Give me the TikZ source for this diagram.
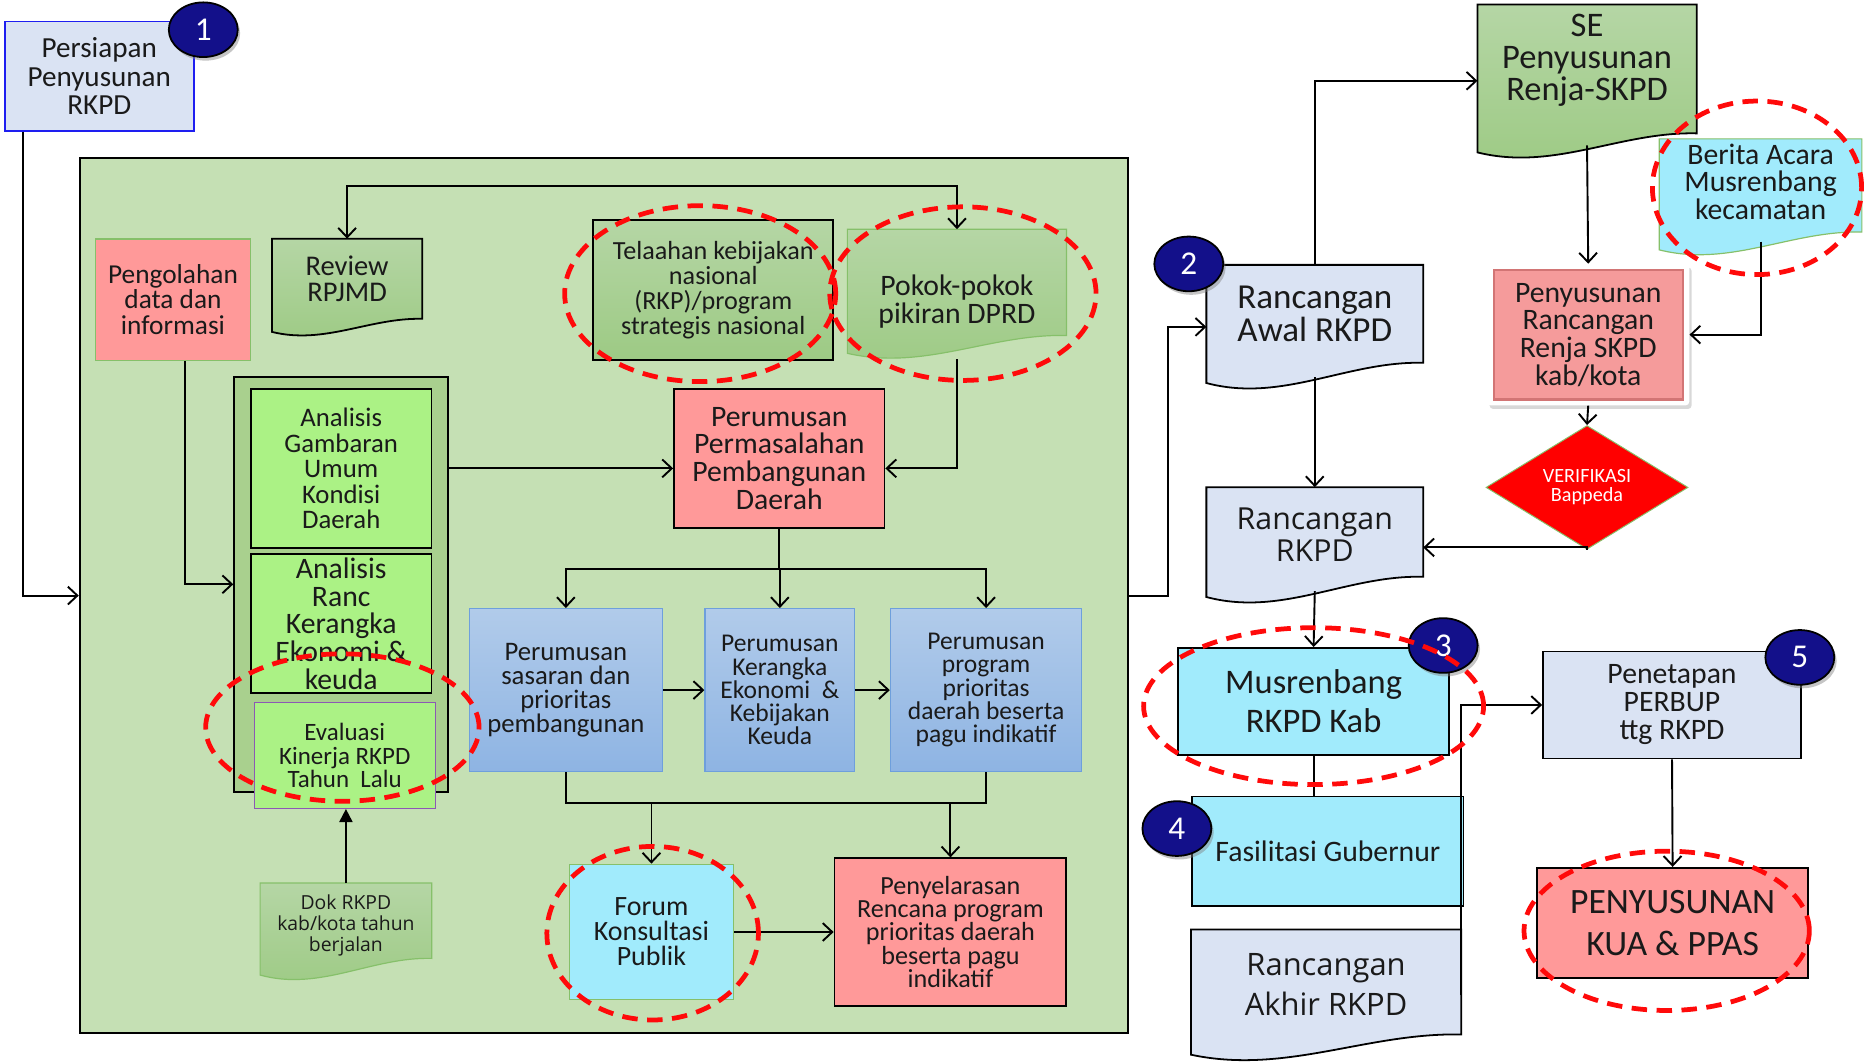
\documentclass[tikz,border=0pt]{standalone}
\usepackage{fontspec}
\setmainfont{Carlito}
\newfontfamily\osans{Open Sans}
\usetikzlibrary{arrows.meta,calc,shapes.geometric,shadows}
\definecolor{cbg}{HTML}{C5E0B4}
\definecolor{canal}{HTML}{A9D08E}
\definecolor{cbright}{HTML}{ABF285}
\definecolor{cpink}{HTML}{FF9999}
\definecolor{cpinkR}{HTML}{F59B9B}
\definecolor{cpinkE}{HTML}{D27575}
\definecolor{cblueT}{HTML}{B1CBEA}
\definecolor{cblueB}{HTML}{8EB4E3}
\definecolor{cblueD}{HTML}{6E9FDC}
\definecolor{ccyan}{HTML}{A1EBFC}
\definecolor{clgrey}{HTML}{DAE3F3}
\definecolor{cgreenT}{HTML}{B5D6A5}
\definecolor{cgreenB}{HTML}{9DCA84}
\definecolor{cgline}{HTML}{86C06A}
\definecolor{cnavy}{HTML}{13108A}
\definecolor{cred}{HTML}{FF0A0A}
\definecolor{cpurple}{HTML}{8C5AB4}
\definecolor{cblue}{HTML}{1E1EF0}
\definecolor{txtc}{HTML}{1A1A1A}
\newcommand\fs[2]{\fontsize{#1pt}{#2pt}\selectfont}
\newcommand\docpath[3]{%
 \path[#1] (#2.north west) -- (#2.north east) -- (#2.south east)
 .. controls ($(#2.south west)!0.65!(#2.south east)+(0,{-0.1*#3})$)
 and ($(#2.south west)!0.35!(#2.south east)+(0,{2*#3})$)
 .. ($(#2.south west)+(0,#3)$) -- cycle;}
\tikzset{
 box/.style={rectangle, inner sep=0pt, align=center, text=txtc},
 area/.style={rectangle, inner sep=0pt, draw=none},
 txt/.style={inner sep=0pt, align=center, text=txtc},
 blk/.style={draw=black, line width=1.5pt},
 arr/.style={draw=black, line width=1.6pt, -{Straight Barb[length=8pt,width=15pt,line width=1.6pt]}},
 arrb/.style={draw=black, line width=1.6pt, {Straight Barb[length=8pt,width=15pt,line width=1.6pt]}-{Straight Barb[length=8pt,width=15pt,line width=1.6pt]}},
 ln/.style={draw=black, line width=1.6pt},
 bluebox/.style={box, top color=cblueT, bottom color=cblueB, draw=cblueD, line width=1pt, minimum height=137pt},
 greenfill/.style={top color=cgreenT, bottom color=cgreenB},
 badge/.style={ellipse, draw=black, line width=1.5pt, fill=cnavy, text=white, minimum width=58pt, minimum height=46pt, inner sep=0pt, font=\fs{28}{28}, drop shadow={shadow xshift=2pt, shadow yshift=-3pt, opacity=0.45}},
 reddash/.style={draw=cred, line width=4pt, dash pattern=on 13pt off 8pt},
}
\begin{document}
\begin{tikzpicture}[x=1pt,y=-1pt]
\useasboundingbox[fill=white] (0,0) rectangle (1568,894);

% left column
\node[box, fill=clgrey, draw=cblue, line width=1.5pt, minimum width=159pt, minimum height=92pt, font=\fs{24.5}{24}] (persiapan) at (83.5,64) {Persiapan\\Penyusunan\\RKPD};

\node[area, fill=cbg, blk, minimum width=882pt, minimum height=736pt] (main) at (508,501) {};

\node[box, fill=cpink, draw=cgline, line width=1pt, minimum width=131pt, minimum height=102pt, font=\fs{23}{21.5}] (pengolahan) at (145.5,252) {Pengolahan\\data dan\\informasi};

\node[area, minimum width=126pt, minimum height=67pt] (review) at (292,234.5) {};
\docpath{greenfill, blk}{review}{11}
\node[txt, font=\fs{24}{22}] (reviewt) at (review.center) {Review\\RPJMD};

\node[box, greenfill, blk, minimum width=202pt, minimum height=118pt, font=\fs{22}{21}] (telaahan) at (600,244) {Telaahan kebijakan\\nasional\\(RKP)/program\\strategis nasional};

\node[area, minimum width=184pt, minimum height=89pt] (pokok) at (805,237.5) {};
\docpath{greenfill, draw=cgline, line width=1pt}{pokok}{15}
\node[txt, font=\fs{25}{24}] (pokokt) at ([yshift=-16pt]pokok.center) {Pokok-pokok\\pikiran DPRD};

\node[box, fill=cpink, blk, minimum width=177pt, minimum height=117pt, font=\fs{25}{23.3}] (perm) at (655.5,385.5) {Perumusan\\Permasalahan\\Pembangunan\\Daerah};

\node[area, fill=canal, blk, minimum width=180pt, minimum height=349pt] (anbox) at (287,491.5) {};
\node[box, fill=cbright, blk, minimum width=152pt, minimum height=134pt, font=\fs{22.5}{21.5}] (ag) at (287,394) {Analisis\\Gambaran\\Umum\\Kondisi\\Daerah};
\node[box, fill=cbright, blk, minimum width=152pt, minimum height=117pt, font=\fs{25}{23.3}] (ar) at (287,524.5) {Analisis\\Ranc\\Kerangka\\Ekonomi \&\\keuda};
\node[box, fill=cbright, draw=cpurple, line width=1pt, minimum width=152pt, minimum height=89pt, font=\fs{21}{19.5}] (eval) at (290,635.5) {Evaluasi\\Kinerja RKPD\\Tahun\ \ Lalu};

\node[area, minimum width=144pt, minimum height=63pt] (dok) at (291,774.5) {};
\docpath{greenfill, draw=cgline, line width=1pt}{dok}{14}
\node[txt, font=\osans\fs{16.3}{18}] (dokt) at ([yshift=-4pt]dok.center) {Dok RKPD\\kab/kota tahun\\berjalan};

\node[bluebox, minimum width=162pt, font=\fs{22.5}{20}] (sas) at (476,580.5) {Perumusan\\sasaran dan\\prioritas\\pembangunan};
\node[bluebox, minimum width=126pt, font=\fs{21.5}{19.5}] (ker) at (656,580.5) {Perumusan\\Kerangka\\Ekonomi\ \ \&\\Kebijakan\\Keuda};
\node[bluebox, minimum width=161pt, font=\fs{21.5}{19.5}] (prog) at (829.5,580.5) {Perumusan\\program\\prioritas\\daerah beserta\\pagu indikatif};

\node[box, fill=ccyan, draw=cgline, line width=1pt, minimum width=138pt, minimum height=114pt, font=\fs{23.5}{21}] (forum) at (548,784) {Forum\\Konsultasi\\Publik};
\node[box, fill=cpink, blk, minimum width=195pt, minimum height=124pt, font=\fs{22}{19.5}] (penyel) at (799.5,784) {Penyelarasan\\Rencana program\\prioritas daerah\\beserta pagu\\indikatif};

% right column
\node[area, minimum width=182pt, minimum height=82pt] (awal) at (1106,264) {};
\docpath{fill=clgrey, blk}{awal}{17}
\node[txt, font=\fs{29.5}{27}] (awalt) at (awal.center) {Rancangan\\Awal RKPD};

\node[area, minimum width=184pt, minimum height=108pt] (se) at (1335,58) {};
\docpath{greenfill, blk}{se}{16}
\node[txt, font=\fs{29}{27}] (set) at ([yshift=7pt]se.center) {SE\\Penyusunan\\Renja-SKPD};

\node[area, minimum width=170pt, minimum height=78pt] (berita) at (1481,156) {};
\docpath{fill=ccyan, draw=cgline, line width=1pt}{berita}{15}
\node[txt, font=\fs{25}{23}] (beritat) at ([yshift=3pt]berita.center) {Berita Acara\\Musrenbang\\kecamatan};

\node[area, fill=white, rounded corners=3pt, minimum width=170pt, minimum height=119pt, drop shadow={shadow xshift=2pt, shadow yshift=-3pt, opacity=0.3}] (penyrenja) at (1336,281.5) {};
\node[box, fill=cpinkR, draw=cpinkE, line width=2pt, minimum width=159pt, minimum height=109pt, font=\fs{25}{23.3}] (penyrenjai) at (penyrenja.center) {Penyusunan\\Rancangan\\Renja SKPD\\kab/kota};

\node[diamond, fill=red, draw=cgline, line width=0.8pt, minimum width=170pt, minimum height=80pt, inner sep=0pt, align=center, text=white, font=\fs{17}{16}] (verif) at (1335,410) {VERIFIKASI\\Bappeda};

\node[area, minimum width=182pt, minimum height=75pt] (rrkpd) at (1106,447.5) {};
\docpath{fill=clgrey, blk}{rrkpd}{17}
\node[txt, font=\osans\fs{25.5}{27}] (rrkpdt) at ([yshift=-2pt]rrkpd.center) {Rancangan\\RKPD};

\node[box, fill=ccyan, blk, minimum width=228pt, minimum height=90pt, font=\fs{29}{33}] (musren) at (1105,590) {Musrenbang\\RKPD Kab};
\node[box, fill=ccyan, blk, minimum width=228pt, minimum height=92pt, font=\fs{25}{25}] (fasil) at (1117,716) {Fasilitasi Gubernur};

\node[area, minimum width=227pt, minimum height=88pt] (akhir) at (1115.5,826) {};
\docpath{fill=clgrey, blk}{akhir}{17}
\node[txt, font=\osans\fs{26}{34}] (akhirt) at ([yshift=-2pt]akhir.center) {Rancangan\\Akhir RKPD};

\node[box, fill=clgrey, blk, minimum width=217pt, minimum height=90pt, font=\fs{25}{23.5}] (penetapan) at (1406.5,593) {Penetapan\\PERBUP\\ttg RKPD};
\node[box, fill=cpink, blk, minimum width=228pt, minimum height=93pt, font=\fs{30}{35}] (kua) at (1407,776.5) {PENYUSUNAN\\KUA \& PPAS};

% connectors
\draw[arr] ([xshift=16pt]persiapan.south west) |- (main.west);
\draw[arr] ([xshift=10pt]pengolahan.south) |- (anbox.west);
\draw[arr] (anbox.east |- ag.east) -- (perm.west |- ag.east);
\draw[arrb] (review.north) -- ++(0,-44) -| (pokok.north);
\draw[arr] ([yshift=-20pt]pokok.south) |- (perm.east |- ag.east);
\draw[ln] (perm.south) -- ++(0,34) coordinate (split);
\draw[arr] (split) -| (sas.north);
\draw[arr] (split) -| (prog.north);
\draw[arr] (split) -- (split -| ker.north) -- (ker.north);
\draw[arr] (sas.east) -- (ker.west);
\draw[arr] (ker.east) -- (prog.west);
\draw[ln] (sas.south) -- ++(0,26) coordinate (jl) -| (prog.south);
\draw[arr] (jl -| forum.north) -- (forum.north);
\draw[arr] (jl -| penyel.north) -- (penyel.north);
\draw[arr] (forum.east) -- (penyel.west);
\draw[draw=black, line width=1.6pt, -{Triangle[length=11pt,width=11pt]}] (dok.north) -- (dok.north |- eval.south);

\draw[arr] (main.east) -- ++(33,0) |- ([yshift=-11pt]awal.west);
\draw[arr] (awal.north) |- ([yshift=-10pt]se.west);
\draw[arr] ([yshift=-10pt]se.south) -- (penyrenja.north);
\draw[arr] ([yshift=-8pt]berita.south) |- (penyrenja.east);
\draw[arr] (penyrenja.south) -- (verif.north);
\draw[arr] (verif.south) |- ([yshift=-13pt]rrkpd.east);
\draw[arr] ([yshift=-12pt]awal.south) -- (rrkpd.north);
\draw[arr] ([yshift=-12pt]rrkpd.south) -- (musren.north);
\draw[ln] (musren.south) -- (musren.south |- fasil.north);
\draw[arr] ([yshift=-55pt]akhir.north east) |- (penetapan.west);
\draw[arr] (penetapan.south) -- (kua.north);

% badges
\node[badge] (b1) at (171,25) {1};
\node[badge] (b2) at (1000,222) {2};
\node[badge] (b3) at (1214,543) {3};
\node[badge] (b4) at (990,697) {4};
\node[badge] (b5) at (1514,553) {5};

% red dashed highlights
\draw[reddash] (589,247) ellipse [x radius=114pt, y radius=74pt];
\draw[reddash] (810,247) ellipse [x radius=112pt, y radius=73pt];
\draw[reddash] (288,612) ellipse [x radius=115pt, y radius=62pt];
\draw[reddash] (549,785) ellipse [x radius=89pt, y radius=73pt];
\draw[reddash] (1478,158) ellipse [x radius=88pt, y radius=73pt];
\draw[reddash] (1105,594) ellipse [x radius=143pt, y radius=66pt];
\draw[reddash] (1402,783) ellipse [x radius=120pt, y radius=67pt];
\end{tikzpicture}
\end{document}
